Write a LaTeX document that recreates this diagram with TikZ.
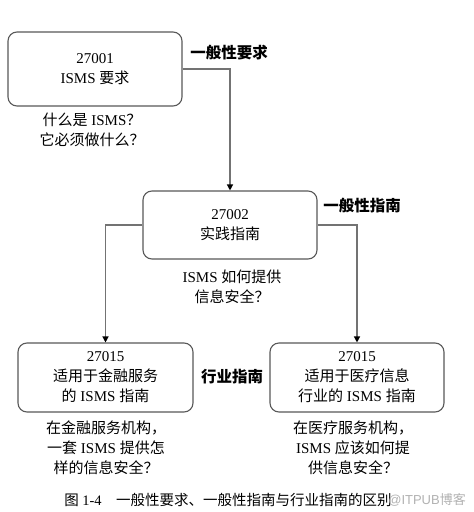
\documentclass[tikz,border=0pt]{standalone}
\usepackage{fontspec}
\setmainfont{Liberation Serif}
\newfontfamily\cjk{Noto Sans CJK SC}
\newfontfamily\wmfont{Liberation Sans}
\usetikzlibrary{arrows.meta}
\begin{document}
\begin{tikzpicture}[x=1pt,y=-1pt,
  box/.style={draw=black!65, line width=1.1pt, rounded corners=9pt, align=center,
    font=\fontsize{15}{20}\selectfont, inner sep=0pt},
  txt/.style={align=center, font=\fontsize{15}{20}\selectfont, inner sep=0pt},
  lbl/.style={font=\fontsize{15.5}{18}\selectfont\cjk\bfseries, inner sep=0pt},
  arr/.style={draw=black!55, line width=1.3pt, -{Triangle[length=6pt,width=6pt,fill=black,color=black]}}
]
\useasboundingbox (0,0) rectangle (474,512);
\fill[white] (0,0) rectangle (474,512);

\node[box, minimum width=174pt, minimum height=74pt] (b1) at (95,69) {27001\\ISMS {\cjk 要求}};
\node[box, minimum width=174pt, minimum height=68pt] (b2) at (230,225) {27002\\{\cjk 实践指南}};
\node[box, minimum width=175pt, minimum height=69pt] (b3) at (105.5,377.5) {27015\\{\cjk 适用于金融服务}\\{\cjk 的} ISMS {\cjk 指南}};
\node[box, minimum width=174pt, minimum height=69pt] (b4) at (357,377.5) {27015\\{\cjk 适用于医疗信息}\\{\cjk 行业的} ISMS {\cjk 指南}};

\node[txt] (q1) at (92,129.5) {{\cjk 什么是} ISMS{\cjk ？}\\{\cjk 它必须做什么？}};
\node[txt] (q2) at (232,287) {ISMS {\cjk 如何提供}\\{\cjk 信息安全？}};
\node[txt] (q3) at (106,448) {{\cjk 在金融服务机构，}\\{\cjk 一套} ISMS {\cjk 提供怎}\\{\cjk 样的信息安全？}};
\node[txt] (q4) at (353,448) {{\cjk 在医疗服务机构，}\\ISMS {\cjk 应该如何提}\\{\cjk 供信息安全？}};

\node[lbl] (l1) at (229,53) {一般性要求};
\node[lbl] (l2) at (362,206) {一般性指南};
\node[lbl] (l3) at (232,377) {行业指南};

\draw[arr] (b1.east) -| (b2.north);
\draw[arr] (b2.west) -| (b3.north);
\draw[arr] (b2.east) -| (b4.north);

\node[inner sep=0pt, font=\fontsize{14.5}{16}\selectfont] (cap) at (228,500) {{\cjk 图} 1-4\quad{\cjk 一般性要求、一般性指南与行业指南的区别}};
\node[inner sep=0pt, anchor=east, text=black!30, font=\fontsize{13}{16}\selectfont] (wm) at (466,500) {\wmfont @ITPUB{\cjk 博客}};
\end{tikzpicture}
\end{document}
